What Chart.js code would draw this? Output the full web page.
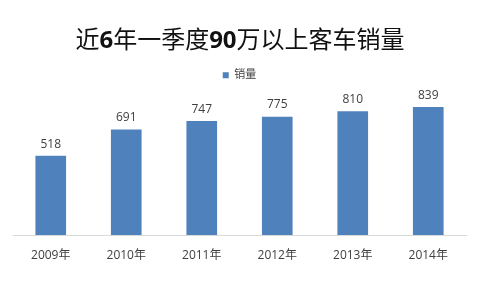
<!DOCTYPE html>
<html>
<head>
<meta charset="utf-8">
<script src="https://cdn.jsdelivr.net/npm/chart.js@4"></script>
<style>
  html, body { margin: 0; padding: 0; background: #fff; }
  #wrap { width: 480px; height: 295px; position: relative; }
</style>
</head>
<body>
<div id="wrap"><canvas id="barChart" width="480" height="295"></canvas></div>
<script>
const years = ["2009年", "2010年", "2011年", "2012年", "2013年", "2014年"];
const sales = [518, 691, 747, 775, 810, 839];
const seriesName = "销量";
const titleText = "近6年一季度90万以上客车销量";

const cjk = "'Open Sans', 'Noto Sans CJK SC', sans-serif";
const titlePadTop = 27;

// title drawn by hand: digits bold, CJK characters regular
const mixedTitle = {
  id: "mixedTitle",
  afterDraw(chart) {
    const ctx = chart.ctx;
    const t = chart.titleBlock;
    const cy = t.top + titlePadTop + 24 * 1.2 / 2;
    const runs = titleText.match(/\d+|[^\d]+/g);
    ctx.save();
    ctx.fillStyle = "#111";
    ctx.textBaseline = "middle";
    ctx.textAlign = "left";
    const fontFor = (r) => (/\d/.test(r) ? "bold 24px " : "24px ") + cjk;
    let total = 0;
    runs.forEach((r) => { ctx.font = fontFor(r); total += ctx.measureText(r).width; });
    let x = chart.width / 2 - total / 2;
    runs.forEach((r) => {
      ctx.font = fontFor(r);
      ctx.fillText(r, x, cy);
      x += ctx.measureText(r).width;
    });
    ctx.restore();
  },
};

// value labels above each bar
const barValues = {
  id: "barValues",
  afterDatasetsDraw(chart) {
    const ctx = chart.ctx;
    const meta = chart.getDatasetMeta(0);
    ctx.save();
    ctx.font = "12px " + cjk;
    ctx.fillStyle = "#404040";
    ctx.textAlign = "center";
    ctx.textBaseline = "bottom";
    meta.data.forEach((bar, i) => {
      ctx.fillText(String(sales[i]), bar.x, bar.y - 6);
    });
    ctx.restore();
  },
};

const ctx = document.getElementById("barChart").getContext("2d");
new Chart(ctx, {
  type: "bar",
  data: {
    labels: years,
    datasets: [
      {
        label: seriesName,
        data: sales,
        backgroundColor: "#4F81BD",
        borderWidth: 0,
        barThickness: 30,
      },
    ],
  },
  options: {
    responsive: false,
    animation: false,
    layout: { padding: { left: 13, right: 14, top: 0, bottom: 27.6 } },
    plugins: {
      title: {
        display: true,
        text: titleText,
        color: "rgba(0,0,0,0)", // real title is painted by mixedTitle
        font: { family: cjk, size: 24 },
        padding: { top: titlePadTop, bottom: 10 },
      },
      legend: {
        display: true,
        labels: {
          color: "#404040",
          font: { family: cjk, size: 11 },
          boxWidth: 6,
          boxHeight: 6,
          padding: 4,
        },
      },
      tooltip: { enabled: false },
    },
    scales: {
      x: {
        grid: { display: false },
        border: { color: "#d9d9d9", width: 1 },
        ticks: { color: "#404040", font: { family: cjk, size: 12 }, padding: 5 },
      },
      y: {
        display: false,
        min: 0,
        max: 947,
      },
    },
  },
  plugins: [barValues, mixedTitle],
});
</script>
</body>
</html>
